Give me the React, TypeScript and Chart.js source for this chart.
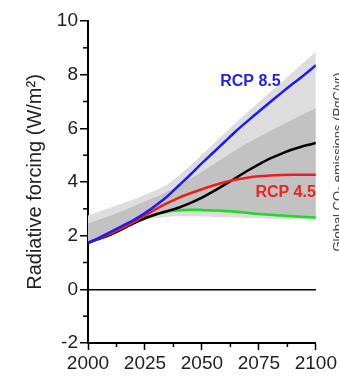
import React, { useEffect, useRef } from "react";
import { Chart, registerables } from "chart.js";
Chart.register(...registerables);

const years = [2000, 2005, 2010, 2015, 2020, 2025, 2030, 2035, 2040, 2045, 2050, 2055, 2060, 2065, 2070, 2075, 2080, 2085, 2090, 2095, 2100];

const rcp85 = [1.73, 1.93, 2.14, 2.36, 2.58, 2.84, 3.14, 3.48, 3.88, 4.28, 4.7, 5.1, 5.5, 5.9, 6.27, 6.63, 6.98, 7.33, 7.67, 8.0, 8.35];
const rcp45 = [1.73, 1.9, 2.08, 2.28, 2.5, 2.75, 3.0, 3.22, 3.42, 3.58, 3.73, 3.87, 3.99, 4.09, 4.16, 4.21, 4.24, 4.26, 4.27, 4.27, 4.27];
const blackSeries = [1.73, 1.88, 2.04, 2.24, 2.46, 2.65, 2.8, 2.92, 3.05, 3.22, 3.42, 3.65, 3.9, 4.16, 4.42, 4.66, 4.88, 5.06, 5.22, 5.35, 5.45];
const greenSeries = [1.73, 1.9, 2.08, 2.28, 2.48, 2.65, 2.8, 2.9, 2.95, 2.97, 2.96, 2.94, 2.92, 2.89, 2.85, 2.81, 2.78, 2.75, 2.72, 2.7, 2.68];

const outerUpper = [2.75, 2.9, 3.05, 3.2, 3.35, 3.52, 3.7, 3.92, 4.25, 4.62, 5.02, 5.42, 5.82, 6.22, 6.6, 6.98, 7.35, 7.72, 8.1, 8.48, 8.85];
const outerLower = [1.73, 1.9, 2.08, 2.27, 2.45, 2.58, 2.66, 2.7, 2.72, 2.72, 2.71, 2.7, 2.69, 2.68, 2.66, 2.65, 2.63, 2.62, 2.61, 2.6, 2.58];
const innerUpper = [2.45, 2.6, 2.75, 2.92, 3.1, 3.28, 3.45, 3.65, 3.88, 4.12, 4.38, 4.65, 4.93, 5.2, 5.45, 5.68, 5.9, 6.12, 6.33, 6.55, 6.75];
const innerLower = [1.73, 1.9, 2.08, 2.28, 2.48, 2.63, 2.76, 2.85, 2.9, 2.91, 2.9, 2.88, 2.86, 2.83, 2.8, 2.77, 2.74, 2.71, 2.69, 2.67, 2.65];

const yMinorTicks = [-1, 1, 3, 5, 7, 9];
const xMinorTicks = [2012.5, 2037.5, 2062.5, 2087.5];

const yTitle = "Radiative forcing (W/m²)";
const rightTitle = "Global CO₂ emissions (PgC/yr)";
const label85 = { text: "RCP 8.5", year: 2058, value: 7.75 };
const label45 = { text: "RCP 4.5", year: 2100, value: 3.6 };

const pts = (vals: number[]) => years.map((yr, i) => ({ x: yr, y: vals[i] }));

export default function App() {
  const ref = useRef<HTMLCanvasElement>(null);
  useEffect(() => {
    document.body.style.margin = "0";
    const extras = {
      id: "extras",
      afterDraw(chart: any) {
        const { ctx } = chart;
        const x = chart.scales.x;
        const y = chart.scales.y;
        ctx.save();
        ctx.strokeStyle = "#000";
        ctx.lineWidth = 1.5;
        for (const v of yMinorTicks) {
          const py = y.getPixelForValue(v);
          ctx.beginPath();
          ctx.moveTo(chart.chartArea.left - 5, py);
          ctx.lineTo(chart.chartArea.left, py);
          ctx.stroke();
        }
        for (const v of xMinorTicks) {
          const px = x.getPixelForValue(v);
          ctx.beginPath();
          ctx.moveTo(px, chart.chartArea.bottom);
          ctx.lineTo(px, chart.chartArea.bottom + 4);
          ctx.stroke();
        }
        ctx.font = "bold 16px 'Liberation Sans', Arial, sans-serif";
        ctx.textBaseline = "middle";
        ctx.fillStyle = "#2222ee";
        ctx.textAlign = "left";
        ctx.fillText(label85.text, x.getPixelForValue(label85.year), y.getPixelForValue(label85.value));
        ctx.fillStyle = "#ee2222";
        ctx.textAlign = "right";
        ctx.fillText(label45.text, x.getPixelForValue(label45.year), y.getPixelForValue(label45.value));
        // clipped right-side title
        ctx.translate(chart.width - 7, 162);
        ctx.rotate(-Math.PI / 2);
        ctx.font = "13px 'Liberation Sans', Arial, sans-serif";
        ctx.fillStyle = "#444";
        ctx.textAlign = "center";
        ctx.textBaseline = "top";
        ctx.fillText(rightTitle, 0, 0);
        ctx.restore();
      },
    };

    const line = (vals: number[], color: string) => ({
      data: pts(vals),
      borderColor: color,
      borderWidth: 2.5,
      pointRadius: 0,
      tension: 0.3,
      fill: false,
    });
    const edge = (vals: number[], fill: any, bg: string) => ({
      data: pts(vals),
      borderWidth: 0,
      borderColor: "rgba(0,0,0,0)",
      backgroundColor: bg,
      pointRadius: 0,
      tension: 0.3,
      fill,
    });

    const chart = new Chart(ref.current as HTMLCanvasElement, {
      type: "line",
      data: {
        datasets: [
          line(rcp85, "#1a1aff"),
          line(rcp45, "#f01c1c"),
          line(blackSeries, "#000000"),
          line(greenSeries, "#1edc1e"),
          edge(innerLower, false, "rgba(0,0,0,0)"),
          edge(innerUpper, "-1", "#c2c2c2"),
          edge(outerLower, false, "rgba(0,0,0,0)"),
          edge(outerUpper, "-1", "#dddddd"),
        ] as any,
      },
      options: {
        animation: false,
        responsive: true,
        maintainAspectRatio: false,
        layout: { padding: { top: 21, right: 23, left: 0, bottom: 0 } },
        plugins: { legend: { display: false }, tooltip: { enabled: false } },
        scales: {
          x: {
            type: "linear",
            min: 2000,
            max: 2100,
            ticks: {
              stepSize: 25,
              color: "#222",
              padding: 2,
              maxRotation: 0,
              font: { family: "'Liberation Sans', Arial, sans-serif", size: 19 },
              callback: (v: any) => String(v),
            },
            grid: { display: true, drawOnChartArea: false, tickLength: 7, tickColor: "#000", tickWidth: 1.5 },
            border: { display: true, color: "#000", width: 2 },
            afterFit: (s: any) => { s.height = 38; },
          },
          y: {
            min: -2,
            max: 10,
            ticks: {
              stepSize: 2,
              color: "#222",
              padding: 2,
              font: { family: "'Liberation Sans', Arial, sans-serif", size: 19 },
            },
            grid: {
              display: true,
              drawOnChartArea: true,
              color: (c: any) => (c.tick && c.tick.value === 0 ? "#000" : "rgba(0,0,0,0)"),
              lineWidth: 1.5,
              tickLength: 8,
              tickColor: "#000",
              tickWidth: 1.5,
            },
            border: { display: true, color: "#000", width: 2 },
            title: {
              display: true,
              text: yTitle,
              color: "#222",
              font: { family: "'Liberation Sans', Arial, sans-serif", size: 20 },
              padding: { top: 23, bottom: 0 },
            },
            afterFit: (s: any) => { s.width = 88; },
          },
        },
      },
      plugins: [extras],
    });
    return () => chart.destroy();
  }, []);

  return (
    <div style={{ position: "fixed", left: 0, top: 0, width: 339, height: 381 }}>
      <canvas ref={ref} />
    </div>
  );
}
